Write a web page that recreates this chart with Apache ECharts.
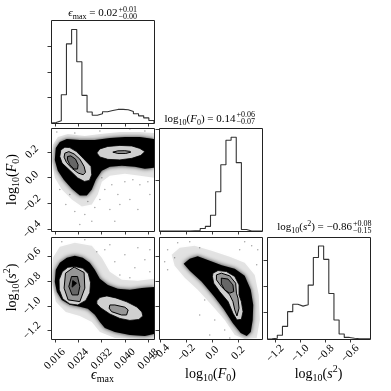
<!DOCTYPE html>
<html><head><meta charset="utf-8">
<script src="https://cdn.jsdelivr.net/npm/echarts@6/dist/echarts.min.js"></script>
<style>html,body{margin:0;padding:0;background:#fff}#c{width:391px;height:391px}</style>
</head><body><div id="c"></div>
<script>
// ---------- axis ranges & ticks ----------
const epsRange = [0.0147, 0.0500];
const f0Range = [-0.413, 0.385];
const s2Range = [-1.267, -0.443];
const epsTicks = [0.016, 0.024, 0.032, 0.040, 0.048];
const f0Ticks = [-0.4, -0.2, 0.0, 0.2];
const s2Ticks = [-1.2, -1.0, -0.8, -0.6];
const histEpsMax = 4.02, histF0Max = 2.02, histS2Max = 3.88;
const histEpsTicks = [1, 2, 3], histF0Ticks = [1, 2], histS2Ticks = [1, 2, 3];

// ---------- 1D histograms (20 bins over the axis range) ----------
const histEps = [0.02,0.09,1.10,3.09,3.65,2.39,1.08,0.43,0.30,0.36,0.44,0.49,0.53,0.53,0.52,0.45,0.36,0.28,0.20,0.10];
const histF0  = [0,0,0,0,0,0,0.005,0.01,0.05,0.09,0.31,0.77,1.30,1.78,1.84,1.34,0.03,0,0,0];
const histS2  = [0.01,0.03,0.14,0.48,1.04,1.32,1.25,1.30,2.05,3.10,3.54,3.03,1.73,0.72,0.19,0.06,0.03,0.01,0.01,0.01];

// ---------- 2D: eps_max vs log10(F0) ----------
const cloudAHalo = [[0.01497,0.138],[0.01531,0.254],[0.01703,0.315],[0.02046,0.338],[0.02629,0.323],[0.03144,0.338],[0.0383,0.354],[0.04516,0.354],[0.050,0.346],[0.050,0.000],[0.04516,0.015],[0.04001,0.031],[0.03487,0.015],[0.03212,-0.031],[0.03075,-0.131],[0.02869,-0.208],[0.02526,-0.223],[0.02183,-0.169],[0.0184,-0.092],[0.016,0.000]];
const cloudA = [[0.016,0.138],[0.01634,0.231],[0.01772,0.277],[0.02012,0.300],[0.02458,0.292],[0.02972,0.292],[0.03487,0.308],[0.04001,0.315],[0.04516,0.315],[0.050,0.300],[0.050,0.077],[0.04687,0.069],[0.04344,0.085],[0.03898,0.092],[0.03487,0.085],[0.03212,0.054],[0.03006,-0.015],[0.02869,-0.092],[0.02698,-0.138],[0.02458,-0.138],[0.02183,-0.085],[0.01909,-0.015],[0.01703,0.054]];
const aLeft1 = [[0.01806,0.215],[0.01943,0.236],[0.02115,0.233],[0.02344,0.202],[0.02571,0.151],[0.02842,0.087],[0.02866,0.023],[0.02787,-0.021],[0.02616,-0.029],[0.02386,-0.002],[0.02156,0.048],[0.0185,0.113],[0.01772,0.164]];
const aLeft2 = [[0.01943,0.190],[0.0208,0.202],[0.02262,0.184],[0.02458,0.144],[0.02605,0.087],[0.02653,0.041],[0.02571,0.023],[0.02399,0.036],[0.02173,0.075],[0.02001,0.118],[0.01919,0.159]];
const aLeft3 = [[0.02036,0.164],[0.02149,0.169],[0.0231,0.144],[0.02399,0.100],[0.02379,0.067],[0.02262,0.067],[0.02115,0.100],[0.02036,0.138]];
const aRight1 = [[0.03041,0.192],[0.03144,0.223],[0.03418,0.242],[0.0383,0.250],[0.04241,0.246],[0.04516,0.227],[0.04687,0.202],[0.0455,0.173],[0.04241,0.150],[0.0383,0.138],[0.03418,0.142],[0.03144,0.161]];
const aRight2 = [[0.03589,0.198],[0.03761,0.208],[0.04001,0.209],[0.04173,0.204],[0.04207,0.198],[0.04035,0.188],[0.03761,0.188]];
const dotsA = [[0.01977,-0.208],[0.02286,-0.262],[0.02629,-0.285],[0.02972,-0.231],[0.03144,-0.169],[0.03315,-0.092],[0.03555,-0.054],[0.03761,-0.131],[0.04001,-0.031],[0.04275,-0.015],[0.04516,-0.054],[0.0479,-0.031],[0.03487,-0.246],[0.02869,-0.338],[0.02458,-0.362],[0.0383,-0.208],[0.04173,-0.169],[0.02115,-0.131],[0.03212,0.000],[0.01772,-0.092],[0.04859,-0.131],[0.04447,-0.246],[0.02732,-0.185],[0.03658,-0.338],[0.01669,0.354],[0.02286,0.346],[0.03144,0.361],[0.04173,0.377],[0.04687,0.361]];

// ---------- 2D: eps_max vs log10(s^2) ----------
const cloudBHalo = [[0.01497,-0.789],[0.01531,-0.611],[0.01772,-0.521],[0.02286,-0.489],[0.02869,-0.513],[0.03212,-0.611],[0.03487,-0.724],[0.03898,-0.789],[0.04447,-0.797],[0.050,-0.781],[0.050,-1.267],[0.04516,-1.267],[0.03658,-1.259],[0.03144,-1.211],[0.02869,-1.129],[0.02458,-1.081],[0.01977,-1.048],[0.01634,-0.967]];
const cloudB = [[0.01634,-0.708],[0.01772,-0.651],[0.02012,-0.611],[0.02286,-0.594],[0.0256,-0.611],[0.028,-0.651],[0.02972,-0.708],[0.03144,-0.781],[0.03418,-0.830],[0.03761,-0.862],[0.04173,-0.870],[0.04584,-0.854],[0.050,-0.846],[0.050,-1.227],[0.04687,-1.243],[0.04173,-1.235],[0.03658,-1.211],[0.03315,-1.178],[0.03144,-1.129],[0.02972,-1.072],[0.02732,-1.023],[0.02458,-1.007],[0.02115,-0.991],[0.0184,-0.951],[0.01669,-0.886],[0.016,-0.805]];
const bLeft1 = [[0.02286,-0.681],[0.0256,-0.696],[0.02749,-0.740],[0.02825,-0.813],[0.028,-0.894],[0.02663,-0.955],[0.02389,-0.992],[0.02115,-0.984],[0.01874,-0.943],[0.01754,-0.870],[0.01747,-0.789],[0.01857,-0.724],[0.02046,-0.688]];
const bLeft2 = [[0.02262,-0.686],[0.02605,-0.730],[0.02629,-0.856],[0.02458,-0.965],[0.02056,-0.951],[0.01919,-0.856],[0.01967,-0.735]];
const bLeft3 = [[0.02173,-0.762],[0.02379,-0.762],[0.02458,-0.843],[0.02399,-0.911],[0.02193,-0.911],[0.0208,-0.843]];
const bLeft4 = [[0.02217,-0.795],[0.02344,-0.816],[0.02193,-0.848]];
const bRight1 = [[0.03041,-0.959],[0.03144,-0.931],[0.03384,-0.919],[0.03692,-0.935],[0.0407,-0.967],[0.04413,-1.008],[0.04584,-1.049],[0.04618,-1.081],[0.04481,-1.109],[0.04173,-1.117],[0.0383,-1.101],[0.03487,-1.065],[0.03178,-1.016],[0.03041,-0.984]];
const bRight2 = [[0.03487,-0.992],[0.03658,-0.992],[0.04001,-1.010],[0.04114,-1.032],[0.0406,-1.073],[0.03888,-1.073],[0.03545,-1.046],[0.03463,-1.018]];
const dotsB = [[0.03315,-0.546],[0.03658,-0.643],[0.04001,-0.586],[0.04344,-0.692],[0.04687,-0.627],[0.0383,-0.749],[0.03487,-0.505],[0.04447,-0.530],[0.0184,-0.481],[0.02629,-0.465],[0.03041,-0.562],[0.04859,-0.724],[0.04173,-0.773],[0.04859,-0.546]];

// ---------- 2D: log10(F0) vs log10(s^2) ----------
const cloudCHalo = [[-0.315,-0.586],[-0.253,-0.530],[-0.137,-0.513],[-0.005,-0.554],[0.135,-0.602],[0.251,-0.651],[0.329,-0.749],[0.360,-0.911],[0.368,-1.113],[0.344,-1.259],[0.251,-1.267],[0.174,-1.235],[0.096,-1.113],[-0.005,-0.992],[-0.113,-0.870],[-0.214,-0.773],[-0.292,-0.675]];
const cloudC = [[-0.222,-0.659],[-0.175,-0.619],[-0.113,-0.598],[-0.020,-0.635],[0.073,-0.671],[0.174,-0.700],[0.251,-0.757],[0.298,-0.870],[0.317,-0.992],[0.313,-1.113],[0.298,-1.211],[0.267,-1.243],[0.220,-1.219],[0.158,-1.138],[0.088,-1.024],[0.011,-0.919],[-0.082,-0.805],[-0.175,-0.716]];
const cLevel1 = [[0.005,-0.735],[0.044,-0.714],[0.109,-0.722],[0.174,-0.762],[0.207,-0.830],[0.207,-0.911],[0.225,-0.965],[0.238,-1.046],[0.225,-1.108],[0.191,-1.113],[0.160,-1.059],[0.122,-0.965],[0.057,-0.884],[0.011,-0.816],[0.001,-0.762]];
const cLevel2 = [[0.032,-0.749],[0.070,-0.735],[0.135,-0.757],[0.181,-0.816],[0.187,-0.897],[0.199,-0.937],[0.207,-1.018],[0.191,-1.081],[0.174,-1.032],[0.160,-0.965],[0.135,-0.911],[0.070,-0.843],[0.032,-0.789]];
const cLevel3 = [[0.070,-0.775],[0.122,-0.783],[0.160,-0.830],[0.166,-0.884],[0.135,-0.897],[0.096,-0.870],[0.070,-0.822]];
const dotsC = [[-0.346,-0.546],[-0.268,-0.489],[-0.175,-0.481],[-0.292,-0.611],[-0.369,-0.643],[-0.098,-0.530],[0.251,-0.481],[0.305,-0.513],[0.352,-0.546],[0.212,-0.546],[-0.059,-0.951],[0.019,-1.113],[0.096,-1.194],[-0.098,-1.073],[0.135,-1.259],[-0.020,-1.235],[0.344,-0.667],[-0.346,-0.708]];

// ---------- layout / styles ----------
const SERIF = '"Liberation Serif","DejaVu Serif",serif';
const COLS = [51, 159, 267], ROWS = [20, 128, 237], SIZE = 103;
const LIGHT = '#d0d0d0', MID = '#969696', DARK = '#666666';
const EPS = '\u03f5';

function fmt(v, d) { return (v < 0 ? '\u2212' : '') + Math.abs(v).toFixed(d); }

function ax(gi, range, ticks, show, dec, margin) {
  return { type: 'value', gridIndex: gi, min: range[0], max: range[1], splitLine: { show: false },
    axisLine: { show: false, onZero: false },
    axisTick: { show: true, customValues: ticks, length: 3.5, lineStyle: { color: '#222', width: 0.9 } },
    axisLabel: { show: show, customValues: ticks, rotate: 45, align: 'center', verticalAlign: 'middle', margin: margin,
      fontFamily: SERIF, fontSize: 11, color: '#000', formatter: v => fmt(v, dec) } };
}
function histPoints(range, h) {
  const n = h.length, w = (range[1] - range[0]) / n;
  const pts = [[range[0], 0]];
  h.forEach((v, i) => pts.push([range[0] + i * w, v]));
  pts.push([range[1], h[n - 1]]);
  pts.push([range[1], 0]);
  return pts;
}
function histSeries(gi, range, h) {
  return { type: 'line', xAxisIndex: gi, yAxisIndex: gi, step: 'end', symbol: 'none', silent: true,
    lineStyle: { color: '#333', width: 1.1 }, data: histPoints(range, h), z: 3 };
}
function poly(gi, pts, style, z) {
  return { type: 'custom', xAxisIndex: gi, yAxisIndex: gi, z: z, silent: true, clip: true, data: pts,
    renderItem: function (params, api) {
      if (params.dataIndex !== 0) return null;
      return { type: 'polygon', shape: { points: pts.map(p => api.coord(p)) }, style: style };
    } };
}
function dots(gi, pts) {
  return { type: 'scatter', xAxisIndex: gi, yAxisIndex: gi, symbolSize: 1.5, silent: true, z: 2,
    itemStyle: { color: 'rgba(0,0,0,0.45)' }, data: pts };
}
const haloStyle = { fill: 'rgba(0,0,0,0.10)', shadowBlur: 5, shadowColor: 'rgba(0,0,0,0.15)' };
const coreStyle = { fill: '#000', shadowBlur: 4, shadowColor: 'rgba(0,0,0,0.8)' };
const l1 = { fill: LIGHT, stroke: '#000', lineWidth: 0.8 };
const l2 = { fill: MID, stroke: '#000', lineWidth: 1 };
const l3 = { fill: DARK, stroke: '#000', lineWidth: 1 };
const l4 = { fill: '#000', stroke: '#000', lineWidth: 1 };

function richSet(base) {
  const s = Math.round(base * 0.72);
  return {
    n: { fontFamily: SERIF, fontSize: base, lineHeight: base * 1.4, fill: '#000' },
    i: { fontFamily: SERIF, fontSize: base, fontStyle: 'italic', lineHeight: base * 1.4, fill: '#000' },
    sub: { fontFamily: SERIF, fontSize: s, lineHeight: s, verticalAlign: 'bottom', fill: '#000' },
    sup: { fontFamily: SERIF, fontSize: s, lineHeight: s, verticalAlign: 'top', fill: '#000' }
  };
}
function rtext(x, y, text, base, align, rot) {
  return { type: 'text', x: x, y: y, rotation: rot || 0, z: 100,
    style: { text: text, rich: richSet(base), align: align, verticalAlign: 'middle', fontFamily: SERIF, fontSize: base, fill: '#000' } };
}
function ptext(x, y, text) {
  return { type: 'text', x: x, y: y, z: 100,
    style: { text: text, align: 'left', verticalAlign: 'middle', fontFamily: SERIF, fontSize: 8, fill: '#000' } };
}

const cells = [[0, 0], [0, 1], [1, 1], [0, 2], [1, 2], [2, 2]];
const grids = cells.map(c => ({ left: COLS[c[0]], top: ROWS[c[1]], width: SIZE, height: c[1] === 2 ? SIZE - 1 : SIZE }));
const borders = grids.map(g => ({ type: 'rect', z: 100, silent: true,
  shape: { x: g.left + 0.5, y: g.top + 0.5, width: g.width, height: g.height },
  style: { fill: 'none', stroke: '#222', lineWidth: 1 } }));

const option = {
  animation: false,
  backgroundColor: '#fff',
  grid: grids,
  xAxis: [
    ax(0, epsRange, epsTicks, false, 3, 20),
    ax(1, epsRange, epsTicks, false, 3, 20),
    ax(2, f0Range, f0Ticks, false, 1, 14),
    ax(3, epsRange, epsTicks, true, 3, 20),
    ax(4, f0Range, f0Ticks, true, 1, 14),
    ax(5, s2Range, s2Ticks, true, 1, 14.5)
  ],
  yAxis: [
    ax(0, [0, histEpsMax], histEpsTicks, false, 0, 10),
    ax(1, f0Range, f0Ticks, true, 1, 19),
    ax(2, [0, histF0Max], histF0Ticks, false, 0, 10),
    ax(3, s2Range, s2Ticks, true, 1, 19),
    ax(4, s2Range, s2Ticks, false, 1, 19),
    ax(5, [0, histS2Max], histS2Ticks, false, 0, 10)
  ],
  series: [
    histSeries(0, epsRange, histEps),
    histSeries(2, f0Range, histF0),
    histSeries(5, s2Range, histS2),
    dots(1, dotsA), poly(1, cloudAHalo, haloStyle, 3), poly(1, cloudA, coreStyle, 4),
    poly(1, aLeft1, l1, 5), poly(1, aLeft2, l2, 6), poly(1, aLeft3, l3, 7),
    poly(1, aRight1, l1, 5), poly(1, aRight2, l2, 6),
    dots(3, dotsB), poly(3, cloudBHalo, haloStyle, 3), poly(3, cloudB, coreStyle, 4),
    poly(3, bLeft1, l1, 5), poly(3, bLeft2, l2, 6), poly(3, bLeft3, l3, 7), poly(3, bLeft4, l4, 8),
    poly(3, bRight1, l1, 5), poly(3, bRight2, l2, 6),
    dots(4, dotsC), poly(4, cloudCHalo, haloStyle, 3), poly(4, cloudC, coreStyle, 4),
    poly(4, cLevel1, l1, 5), poly(4, cLevel2, l2, 6), poly(4, cLevel3, l3, 7)
  ],
  graphic: borders.concat([
    rtext(117.5, 13.5, '{i|' + EPS + '}{sub|max}{n| = 0.02}', 11, 'right'),
    ptext(118.5, 9.5, '+0.01'), ptext(118.5, 16.5, '\u22120.00'),
    rtext(235.5, 119, '{n|log}{sub|10}{n|(}{i|F}{sub|0}{n|) = 0.14}', 11, 'right'),
    ptext(236.5, 115, '+0.06'), ptext(236.5, 122, '\u22120.07'),
    rtext(352, 227.5, '{n|log}{sub|10}{n|(}{i|s}{sup|2}{n|) = \u22120.86}', 11, 'right'),
    ptext(353, 223.5, '+0.08'), ptext(353, 230.5, '\u22120.15'),
    rtext(102.5, 375, '{i|' + EPS + '}{sub|max}', 14, 'center'),
    rtext(210.5, 374, '{n|log}{sub|10}{n|(}{i|F}{sub|0}{n|)}', 14, 'center'),
    rtext(318.5, 374, '{n|log}{sub|10}{n|(}{i|s}{sup|2}{n|)}', 14, 'center'),
    rtext(12, 179.5, '{n|log}{sub|10}{n|(}{i|F}{sub|0}{n|)}', 14, 'center', Math.PI / 2),
    rtext(12, 287.5, '{n|log}{sub|10}{n|(}{i|s}{sup|2}{n|)}', 14, 'center', Math.PI / 2)
  ])
};
const chart = echarts.init(document.getElementById('c'), null, { renderer: 'canvas' });
chart.setOption(option);
</script></body></html>
